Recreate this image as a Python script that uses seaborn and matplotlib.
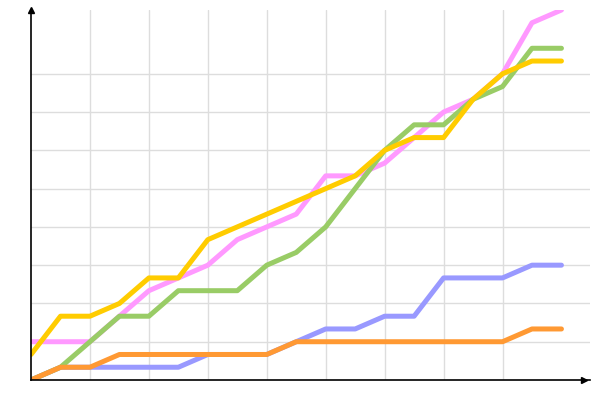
import numpy as np
import pandas as pd
import seaborn as sns
from matplotlib import pyplot as plt

# values (19 points per series)
steps = list(range(19))
pink = [3, 3, 3, 5, 7, 8, 9, 11, 12, 13, 16, 16, 17, 19, 21, 22, 24, 28, 29]
blue = [0, 1, 1, 1, 1, 1, 2, 2, 2, 3, 4, 4, 5, 5, 8, 8, 8, 9, 9]
green = [0, 1, 3, 5, 5, 7, 7, 7, 9, 10, 12, 15, 18, 20, 20, 22, 23, 26, 26]
orange = [0, 1, 1, 2, 2, 2, 2, 2, 2, 3, 3, 3, 3, 3, 3, 3, 3, 4, 4]
yellow = [2, 5, 5, 6, 8, 8, 11, 12, 13, 14, 15, 16, 18, 19, 19, 22, 24, 25, 25]

names = ["pink", "blue", "green", "orange", "yellow"]
colors = ["#FF99FF", "#9999FF", "#99CC66", "#FF9933", "#FFCC00"]

df = pd.DataFrame({"x": steps, "pink": pink, "blue": blue, "green": green,
                   "orange": orange, "yellow": yellow})
long_df = df.melt(id_vars="x", var_name="series", value_name="y")

sns.set_style("white")
fig = plt.figure(figsize=(6, 4), dpi=100)
ax = fig.add_axes([0.0517, 0.05, 0.9317, 0.925])

sns.lineplot(data=long_df, x="x", y="y", hue="series", hue_order=names,
             palette=colors, linewidth=3.6, legend=False, ax=ax)

ax.set_xlim(0, 18.97)
ax.set_ylim(0, 29)
ax.set_xticks(range(2, 17, 2))
ax.set_yticks(range(3, 25, 3))
ax.grid(True, color="#dddddd", linewidth=1)
ax.tick_params(length=0, labelbottom=False, labelleft=False)
ax.set_xlabel("")
ax.set_ylabel("")

for s in ["top", "right"]:
    ax.spines[s].set_visible(False)
for s in ["left", "bottom"]:
    ax.spines[s].set_color("black")
    ax.spines[s].set_linewidth(1.2)

# arrow heads on the axes
ax.plot(0.99, 0, ">k", ms=5, transform=ax.transAxes, clip_on=False)
ax.plot(0, 1, "^k", ms=5, transform=ax.transAxes, clip_on=False)

fig.savefig("out.png", dpi=100)
